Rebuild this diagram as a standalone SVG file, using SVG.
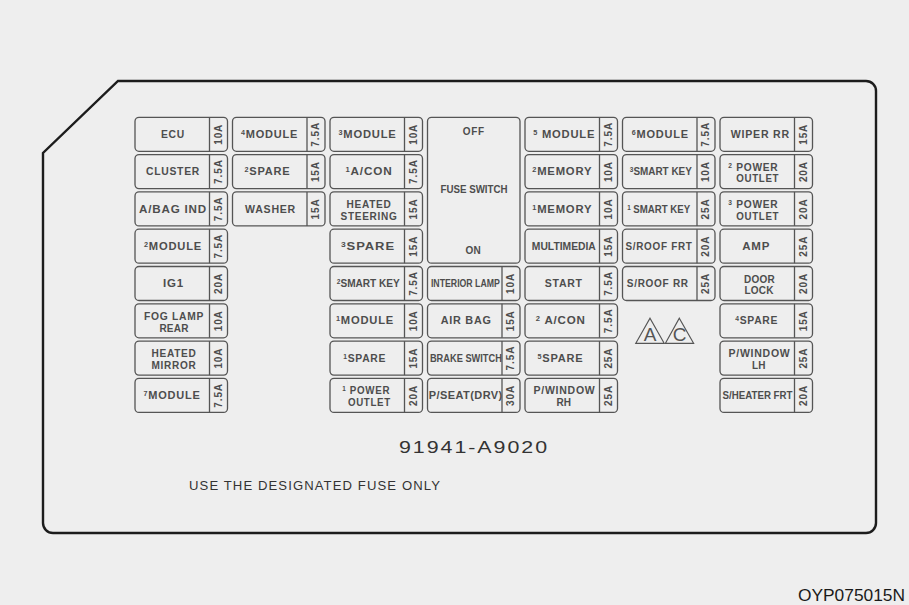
<svg xmlns="http://www.w3.org/2000/svg" width="909" height="605" viewBox="0 0 909 605">
<style>
.fb{fill:none;stroke:#555;stroke-width:1.3}
.dv{stroke:#555;stroke-width:1.3}
.lb{font-family:"Liberation Sans",Arial,sans-serif;font-weight:bold;font-size:10px;fill:#4d4d4d;text-anchor:middle;letter-spacing:0.7px}
.sh{font-family:"Liberation Sans",Arial,sans-serif;font-weight:bold;font-size:10px;fill:#4d4d4d;text-anchor:middle;letter-spacing:0.2px}
.cd{font-family:"Liberation Sans",Arial,sans-serif;font-weight:bold;font-size:10px;fill:#4d4d4d;text-anchor:middle}
.ls{font-family:"Liberation Sans",Arial,sans-serif;font-weight:bold;font-size:10px;fill:#4d4d4d;text-anchor:start;letter-spacing:0.4px}
.am{font-family:"Liberation Sans",Arial,sans-serif;font-weight:bold;font-size:10px;fill:#4d4d4d;text-anchor:middle;letter-spacing:0.9px}
.sp{font-size:6.5px}
.tri{fill:none;stroke:#555;stroke-width:1.2}
.tl{font-family:"Liberation Sans",Arial,sans-serif;font-size:19px;fill:#555;text-anchor:middle}
</style>
<rect width="909" height="605" fill="#eeeeee"/>
<path d="M118,81 L866,81 A10,10 0 0 1 876,91 L876,523 A10,10 0 0 1 866,533 L53,533 A10,10 0 0 1 43,523 L43,153 Z" fill="none" stroke="#1c1c1c" stroke-width="2.4"/>

<!-- column 1 -->
<g id="f-ecu"><rect class="fb" x="135" y="117.3" width="92.5" height="34" rx="4"/><line class="dv" x1="209.5" y1="117.3" x2="209.5" y2="151.3"/><text class="lb" x="173" y="137.9" textLength="24" lengthAdjust="spacingAndGlyphs">ECU</text><text class="am" transform="translate(221.9,134.3) rotate(-90)">10A</text></g>
<g id="f-cluster"><rect class="fb" x="135" y="154.6" width="92.5" height="34" rx="4"/><line class="dv" x1="209.5" y1="154.6" x2="209.5" y2="188.6"/><text class="lb" x="173" y="175.2" textLength="54" lengthAdjust="spacingAndGlyphs">CLUSTER</text><text class="am" transform="translate(221.9,171.6) rotate(-90)">7.5A</text></g>
<g id="f-abagind"><rect class="fb" x="135" y="191.9" width="92.5" height="34" rx="4"/><line class="dv" x1="209.5" y1="191.9" x2="209.5" y2="225.9"/><text class="lb" x="173" y="212.5" textLength="68" lengthAdjust="spacingAndGlyphs">A/BAG IND</text><text class="am" transform="translate(221.9,208.9) rotate(-90)">7.5A</text></g>
<g id="f-module2"><rect class="fb" x="135" y="229.2" width="92.5" height="34" rx="4"/><line class="dv" x1="209.5" y1="229.2" x2="209.5" y2="263.2"/><text class="lb" x="173" y="249.8" textLength="58" lengthAdjust="spacingAndGlyphs"><tspan class="sp" dy="-3">2</tspan><tspan dy="3">MODULE</tspan></text><text class="am" transform="translate(221.9,246.2) rotate(-90)">7.5A</text></g>
<g id="f-ig1"><rect class="fb" x="135" y="266.5" width="92.5" height="34" rx="4"/><line class="dv" x1="209.5" y1="266.5" x2="209.5" y2="300.5"/><text class="lb" x="173.5" y="287.1" textLength="21" lengthAdjust="spacingAndGlyphs">IG1</text><text class="am" transform="translate(221.9,283.5) rotate(-90)">20A</text></g>
<g id="f-foglamp"><rect class="fb" x="135" y="303.8" width="92.5" height="34" rx="4"/><line class="dv" x1="209.5" y1="303.8" x2="209.5" y2="337.8"/><text class="lb" x="174" y="319.8" textLength="60" lengthAdjust="spacingAndGlyphs">FOG LAMP</text><text class="sh" x="174" y="331.5">REAR</text><text class="am" transform="translate(221.9,320.8) rotate(-90)">10A</text></g>
<g id="f-heatedmirror"><rect class="fb" x="135" y="341.1" width="92.5" height="34" rx="4"/><line class="dv" x1="209.5" y1="341.1" x2="209.5" y2="375.1"/><text class="lb" x="174" y="357.1" textLength="45" lengthAdjust="spacingAndGlyphs">HEATED</text><text class="lb" x="174" y="368.8" textLength="45" lengthAdjust="spacingAndGlyphs">MIRROR</text><text class="am" transform="translate(221.9,358.1) rotate(-90)">10A</text></g>
<g id="f-module7"><rect class="fb" x="135" y="378.4" width="92.5" height="34" rx="4"/><line class="dv" x1="209.5" y1="378.4" x2="209.5" y2="412.4"/><text class="lb" x="172" y="399" textLength="57" lengthAdjust="spacingAndGlyphs"><tspan class="sp" dy="-3">7</tspan><tspan dy="3">MODULE</tspan></text><text class="am" transform="translate(221.9,395.4) rotate(-90)">7.5A</text></g>

<!-- column 2 -->
<g id="f-module4"><rect class="fb" x="232.5" y="117.3" width="92.5" height="34" rx="4"/><line class="dv" x1="307" y1="117.3" x2="307" y2="151.3"/><text class="lb" x="269.5" y="137.9" textLength="57" lengthAdjust="spacingAndGlyphs"><tspan class="sp" dy="-3">4</tspan><tspan dy="3">MODULE</tspan></text><text class="am" transform="translate(319.4,134.3) rotate(-90)">7.5A</text></g>
<g id="f-spare2"><rect class="fb" x="232.5" y="154.6" width="92.5" height="34" rx="4"/><line class="dv" x1="307" y1="154.6" x2="307" y2="188.6"/><text class="lb" x="267.5" y="175.2" textLength="46" lengthAdjust="spacingAndGlyphs"><tspan class="sp" dy="-3">2</tspan><tspan dy="3">SPARE</tspan></text><text class="am" transform="translate(319.4,171.6) rotate(-90)">15A</text></g>
<g id="f-washer"><rect class="fb" x="232.5" y="191.9" width="92.5" height="34" rx="4"/><line class="dv" x1="307" y1="191.9" x2="307" y2="225.9"/><text class="lb" x="270.5" y="212.5" textLength="51" lengthAdjust="spacingAndGlyphs">WASHER</text><text class="am" transform="translate(319.4,208.9) rotate(-90)">15A</text></g>

<!-- column 3 -->
<g id="f-module3"><rect class="fb" x="330" y="117.3" width="92.5" height="34" rx="4"/><line class="dv" x1="404.5" y1="117.3" x2="404.5" y2="151.3"/><text class="lb" x="367.5" y="137.9" textLength="58" lengthAdjust="spacingAndGlyphs"><tspan class="sp" dy="-3">3</tspan><tspan dy="3">MODULE</tspan></text><text class="am" transform="translate(416.9,134.3) rotate(-90)">10A</text></g>
<g id="f-acon1"><rect class="fb" x="330" y="154.6" width="92.5" height="34" rx="4"/><line class="dv" x1="404.5" y1="154.6" x2="404.5" y2="188.6"/><text class="lb" x="369" y="175.2" textLength="47" lengthAdjust="spacingAndGlyphs"><tspan class="sp" dy="-3">1</tspan><tspan dy="3">A/CON</tspan></text><text class="am" transform="translate(416.9,171.6) rotate(-90)">7.5A</text></g>
<g id="f-heatedsteering"><rect class="fb" x="330" y="191.9" width="92.5" height="34" rx="4"/><line class="dv" x1="404.5" y1="191.9" x2="404.5" y2="225.9"/><text class="lb" x="369" y="207.9" textLength="45" lengthAdjust="spacingAndGlyphs">HEATED</text><text class="lb" x="369" y="219.6" textLength="57" lengthAdjust="spacingAndGlyphs">STEERING</text><text class="am" transform="translate(416.9,208.9) rotate(-90)">15A</text></g>
<g id="f-spare3"><rect class="fb" x="330" y="229.2" width="92.5" height="34" rx="4"/><line class="dv" x1="404.5" y1="229.2" x2="404.5" y2="263.2"/><text class="lb" x="368" y="249.8" textLength="54" lengthAdjust="spacingAndGlyphs"><tspan class="sp" dy="-3">3</tspan><tspan dy="3">SPARE</tspan></text><text class="am" transform="translate(416.9,246.2) rotate(-90)">15A</text></g>
<g id="f-smartkey2"><rect class="fb" x="330" y="266.5" width="92.5" height="34" rx="4"/><line class="dv" x1="404.5" y1="266.5" x2="404.5" y2="300.5"/><text class="cd" x="368.3" y="287.1" textLength="63" lengthAdjust="spacingAndGlyphs"><tspan class="sp" dy="-3">2</tspan><tspan dy="3">SMART KEY</tspan></text><text class="am" transform="translate(416.9,283.5) rotate(-90)">7.5A</text></g>
<g id="f-module1"><rect class="fb" x="330" y="303.8" width="92.5" height="34" rx="4"/><line class="dv" x1="404.5" y1="303.8" x2="404.5" y2="337.8"/><text class="lb" x="365" y="324.4" textLength="58" lengthAdjust="spacingAndGlyphs"><tspan class="sp" dy="-3">1</tspan><tspan dy="3">MODULE</tspan></text><text class="am" transform="translate(416.9,320.8) rotate(-90)">10A</text></g>
<g id="f-spare1"><rect class="fb" x="330" y="341.1" width="92.5" height="34" rx="4"/><line class="dv" x1="404.5" y1="341.1" x2="404.5" y2="375.1"/><text class="lb" x="364.7" y="361.7" textLength="43" lengthAdjust="spacingAndGlyphs"><tspan class="sp" dy="-3">1</tspan><tspan dy="3">SPARE</tspan></text><text class="am" transform="translate(416.9,358.1) rotate(-90)">15A</text></g>
<g id="f-poweroutlet1"><rect class="fb" x="330" y="378.4" width="92.5" height="34" rx="4"/><line class="dv" x1="404.5" y1="378.4" x2="404.5" y2="412.4"/><text class="lb" x="366.2" y="394.4" textLength="48" lengthAdjust="spacingAndGlyphs"><tspan class="sp" dy="-3">1</tspan><tspan dy="3"> POWER</tspan></text><text class="lb" x="369.4" y="406.1" textLength="43" lengthAdjust="spacingAndGlyphs">OUTLET</text><text class="am" transform="translate(416.9,395.4) rotate(-90)">20A</text></g>

<!-- column 4 -->
<g id="f-fuseswitch"><rect class="fb" x="427.5" y="117.3" width="92.5" height="145.9" rx="4"/><text class="lb" x="473.8" y="134.7" textLength="22" lengthAdjust="spacingAndGlyphs">OFF</text><text class="cd" x="474" y="192.6" textLength="67" lengthAdjust="spacingAndGlyphs">FUSE SWITCH</text><text class="sh" x="473.3" y="254.3">ON</text></g>
<g id="f-interiorlamp"><rect class="fb" x="427.5" y="266.5" width="92.5" height="34" rx="4"/><line class="dv" x1="502" y1="266.5" x2="502" y2="300.5"/><text class="cd" x="465.4" y="287.1" textLength="69" lengthAdjust="spacingAndGlyphs">INTERIOR LAMP</text><text class="am" transform="translate(514.4,283.5) rotate(-90)">10A</text></g>
<g id="f-airbag"><rect class="fb" x="427.5" y="303.8" width="92.5" height="34" rx="4"/><line class="dv" x1="502" y1="303.8" x2="502" y2="337.8"/><text class="lb" x="466.2" y="324.4" textLength="51" lengthAdjust="spacingAndGlyphs">AIR BAG</text><text class="am" transform="translate(514.4,320.8) rotate(-90)">15A</text></g>
<g id="f-brakeswitch"><rect class="fb" x="427.5" y="341.1" width="92.5" height="34" rx="4"/><line class="dv" x1="502" y1="341.1" x2="502" y2="375.1"/><text class="cd" x="465.9" y="361.7" textLength="72" lengthAdjust="spacingAndGlyphs">BRAKE SWITCH</text><text class="am" transform="translate(514.4,358.1) rotate(-90)">7.5A</text></g>
<g id="f-pseatdrv"><rect class="fb" x="427.5" y="378.4" width="92.5" height="34" rx="4"/><line class="dv" x1="502" y1="378.4" x2="502" y2="412.4"/><text class="ls" x="428.7" y="399" textLength="74" lengthAdjust="spacingAndGlyphs">P/SEAT(DRV)</text><text class="am" transform="translate(514.4,395.4) rotate(-90)">30A</text></g>

<!-- column 5 -->
<g id="f-module5"><rect class="fb" x="525" y="117.3" width="92.5" height="34" rx="4"/><line class="dv" x1="599.5" y1="117.3" x2="599.5" y2="151.3"/><text class="lb" x="564.2" y="137.9" textLength="62" lengthAdjust="spacingAndGlyphs"><tspan class="sp" dy="-3">5</tspan><tspan dy="3"> MODULE</tspan></text><text class="am" transform="translate(611.9,134.3) rotate(-90)">7.5A</text></g>
<g id="f-memory2"><rect class="fb" x="525" y="154.6" width="92.5" height="34" rx="4"/><line class="dv" x1="599.5" y1="154.6" x2="599.5" y2="188.6"/><text class="lb" x="562.3" y="175.2" textLength="60" lengthAdjust="spacingAndGlyphs"><tspan class="sp" dy="-3">2</tspan><tspan dy="3">MEMORY</tspan></text><text class="am" transform="translate(611.9,171.6) rotate(-90)">10A</text></g>
<g id="f-memory1"><rect class="fb" x="525" y="191.9" width="92.5" height="34" rx="4"/><line class="dv" x1="599.5" y1="191.9" x2="599.5" y2="225.9"/><text class="lb" x="562.3" y="212.5" textLength="60" lengthAdjust="spacingAndGlyphs"><tspan class="sp" dy="-3">1</tspan><tspan dy="3">MEMORY</tspan></text><text class="am" transform="translate(611.9,208.9) rotate(-90)">10A</text></g>
<g id="f-multimedia"><rect class="fb" x="525" y="229.2" width="92.5" height="34" rx="4"/><line class="dv" x1="599.5" y1="229.2" x2="599.5" y2="263.2"/><text class="cd" x="563.8" y="249.8" textLength="64" lengthAdjust="spacingAndGlyphs">MULTIMEDIA</text><text class="am" transform="translate(611.9,246.2) rotate(-90)">15A</text></g>
<g id="f-start"><rect class="fb" x="525" y="266.5" width="92.5" height="34" rx="4"/><line class="dv" x1="599.5" y1="266.5" x2="599.5" y2="300.5"/><text class="lb" x="563.8" y="287.1" textLength="38" lengthAdjust="spacingAndGlyphs">START</text><text class="am" transform="translate(611.9,283.5) rotate(-90)">7.5A</text></g>
<g id="f-acon2"><rect class="fb" x="525" y="303.8" width="92.5" height="34" rx="4"/><line class="dv" x1="599.5" y1="303.8" x2="599.5" y2="337.8"/><text class="lb" x="560.8" y="324.4" textLength="50" lengthAdjust="spacingAndGlyphs"><tspan class="sp" dy="-3">2</tspan><tspan dy="3"> A/CON</tspan></text><text class="am" transform="translate(611.9,320.8) rotate(-90)">7.5A</text></g>
<g id="f-spare5"><rect class="fb" x="525" y="341.1" width="92.5" height="34" rx="4"/><line class="dv" x1="599.5" y1="341.1" x2="599.5" y2="375.1"/><text class="lb" x="560.5" y="361.7" textLength="46" lengthAdjust="spacingAndGlyphs"><tspan class="sp" dy="-3">5</tspan><tspan dy="3">SPARE</tspan></text><text class="am" transform="translate(611.9,358.1) rotate(-90)">25A</text></g>
<g id="f-pwindowrh"><rect class="fb" x="525" y="378.4" width="92.5" height="34" rx="4"/><line class="dv" x1="599.5" y1="378.4" x2="599.5" y2="412.4"/><text class="lb" x="564.5" y="394.4" textLength="62" lengthAdjust="spacingAndGlyphs">P/WINDOW</text><text class="sh" x="563.8" y="406.1">RH</text><text class="am" transform="translate(611.9,395.4) rotate(-90)">25A</text></g>

<!-- column 6 -->
<g id="f-module6"><rect class="fb" x="622.5" y="117.3" width="92.5" height="34" rx="4"/><line class="dv" x1="697" y1="117.3" x2="697" y2="151.3"/><text class="lb" x="660.3" y="137.9" textLength="57" lengthAdjust="spacingAndGlyphs"><tspan class="sp" dy="-3">6</tspan><tspan dy="3">MODULE</tspan></text><text class="am" transform="translate(709.4,134.3) rotate(-90)">7.5A</text></g>
<g id="f-smartkey3"><rect class="fb" x="622.5" y="154.6" width="92.5" height="34" rx="4"/><line class="dv" x1="697" y1="154.6" x2="697" y2="188.6"/><text class="cd" x="660.8" y="175.2" textLength="62" lengthAdjust="spacingAndGlyphs"><tspan class="sp" dy="-3">3</tspan><tspan dy="3">SMART KEY</tspan></text><text class="am" transform="translate(709.4,171.6) rotate(-90)">10A</text></g>
<g id="f-smartkey1"><rect class="fb" x="622.5" y="191.9" width="92.5" height="34" rx="4"/><line class="dv" x1="697" y1="191.9" x2="697" y2="225.9"/><text class="cd" x="658.7" y="212.5" textLength="63" lengthAdjust="spacingAndGlyphs"><tspan class="sp" dy="-3">1</tspan><tspan dy="3"> SMART KEY</tspan></text><text class="am" transform="translate(709.4,208.9) rotate(-90)">25A</text></g>
<g id="f-sroofft"><rect class="fb" x="622.5" y="229.2" width="92.5" height="34" rx="4"/><line class="dv" x1="697" y1="229.2" x2="697" y2="263.2"/><text class="lb" x="659" y="249.8" textLength="67" lengthAdjust="spacingAndGlyphs">S/ROOF FRT</text><text class="am" transform="translate(709.4,246.2) rotate(-90)">20A</text></g>
<g id="f-sroofrr"><rect class="fb" x="622.5" y="266.5" width="92.5" height="34" rx="4"/><line class="dv" x1="697" y1="266.5" x2="697" y2="300.5"/><text class="lb" x="657.8" y="287.1" textLength="62" lengthAdjust="spacingAndGlyphs">S/ROOF RR</text><text class="am" transform="translate(709.4,283.5) rotate(-90)">25A</text></g>
<g id="mark-ac"><path class="tri" d="M650,318.3 L664.2,343.3 L635.8,343.3 Z"/><path class="tri" d="M679.3,318.3 L693.6,343.3 L665.4,343.3 Z"/><text class="tl" x="650" y="341">A</text><text class="tl" x="679.5" y="341">C</text></g>

<!-- column 7 -->
<g id="f-wiperrr"><rect class="fb" x="720" y="117.3" width="92.5" height="34" rx="4"/><line class="dv" x1="794.5" y1="117.3" x2="794.5" y2="151.3"/><text class="lb" x="760.3" y="137.9" textLength="59" lengthAdjust="spacingAndGlyphs">WIPER RR</text><text class="am" transform="translate(806.9,134.3) rotate(-90)">15A</text></g>
<g id="f-poweroutlet2"><rect class="fb" x="720" y="154.6" width="92.5" height="34" rx="4"/><line class="dv" x1="794.5" y1="154.6" x2="794.5" y2="188.6"/><text class="lb" x="753.3" y="170.6" textLength="50" lengthAdjust="spacingAndGlyphs"><tspan class="sp" dy="-3">2</tspan><tspan dy="3"> POWER</tspan></text><text class="lb" x="757.7" y="182.3" textLength="43" lengthAdjust="spacingAndGlyphs">OUTLET</text><text class="am" transform="translate(806.9,171.6) rotate(-90)">20A</text></g>
<g id="f-poweroutlet3"><rect class="fb" x="720" y="191.9" width="92.5" height="34" rx="4"/><line class="dv" x1="794.5" y1="191.9" x2="794.5" y2="225.9"/><text class="lb" x="753.3" y="207.9" textLength="50" lengthAdjust="spacingAndGlyphs"><tspan class="sp" dy="-3">3</tspan><tspan dy="3"> POWER</tspan></text><text class="lb" x="757.7" y="219.6" textLength="43" lengthAdjust="spacingAndGlyphs">OUTLET</text><text class="am" transform="translate(806.9,208.9) rotate(-90)">20A</text></g>
<g id="f-amp"><rect class="fb" x="720" y="229.2" width="92.5" height="34" rx="4"/><line class="dv" x1="794.5" y1="229.2" x2="794.5" y2="263.2"/><text class="lb" x="756.2" y="249.8" textLength="28" lengthAdjust="spacingAndGlyphs">AMP</text><text class="am" transform="translate(806.9,246.2) rotate(-90)">25A</text></g>
<g id="f-doorlock"><rect class="fb" x="720" y="266.5" width="92.5" height="34" rx="4"/><line class="dv" x1="794.5" y1="266.5" x2="794.5" y2="300.5"/><text class="sh" x="759.5" y="282.5">DOOR</text><text class="sh" x="759" y="294.2">LOCK</text><text class="am" transform="translate(806.9,283.5) rotate(-90)">20A</text></g>
<g id="f-spare4"><rect class="fb" x="720" y="303.8" width="92.5" height="34" rx="4"/><line class="dv" x1="794.5" y1="303.8" x2="794.5" y2="337.8"/><text class="lb" x="756.7" y="324.4" textLength="43" lengthAdjust="spacingAndGlyphs"><tspan class="sp" dy="-3">4</tspan><tspan dy="3">SPARE</tspan></text><text class="am" transform="translate(806.9,320.8) rotate(-90)">15A</text></g>
<g id="f-pwindowlh"><rect class="fb" x="720" y="341.1" width="92.5" height="34" rx="4"/><line class="dv" x1="794.5" y1="341.1" x2="794.5" y2="375.1"/><text class="lb" x="759.5" y="357.1" textLength="62" lengthAdjust="spacingAndGlyphs">P/WINDOW</text><text class="sh" x="758.8" y="368.8">LH</text><text class="am" transform="translate(806.9,358.1) rotate(-90)">25A</text></g>
<g id="f-sheaterfrt"><rect class="fb" x="720" y="378.4" width="92.5" height="34" rx="4"/><line class="dv" x1="794.5" y1="378.4" x2="794.5" y2="412.4"/><text class="cd" x="757.5" y="399" textLength="70" lengthAdjust="spacingAndGlyphs">S/HEATER FRT</text><text class="am" transform="translate(806.9,395.4) rotate(-90)">20A</text></g>

<g id="connectors"></g>

<text x="474" y="452.5" font-family="Liberation Sans, Arial, sans-serif" font-size="16.5" fill="#333" text-anchor="middle" letter-spacing="1.5" textLength="150" lengthAdjust="spacingAndGlyphs">91941-A9020</text>
<text x="189" y="489.5" font-family="Liberation Sans, Arial, sans-serif" font-size="12" fill="#333" letter-spacing="1" textLength="252" lengthAdjust="spacingAndGlyphs">USE THE DESIGNATED FUSE ONLY</text>
<text x="798" y="601" font-family="Liberation Sans, Arial, sans-serif" font-size="16" fill="#1a1a1a" textLength="107" lengthAdjust="spacingAndGlyphs">OYP075015N</text>
</svg>
